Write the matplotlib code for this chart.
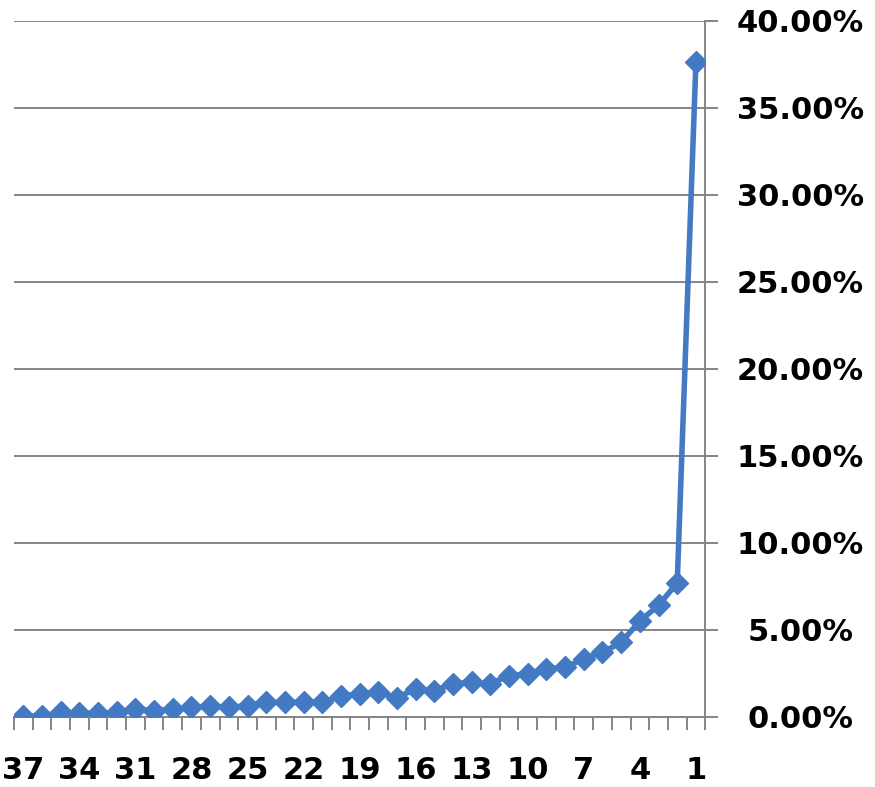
import numpy as np
import matplotlib
matplotlib.use("Agg")
import matplotlib.pyplot as plt
from matplotlib.ticker import FixedLocator, PercentFormatter

# categories run 37 -> 1 left to right
ranks = list(range(37, 0, -1))
shares = [0.05, 0.02, 0.25, 0.2, 0.2, 0.25, 0.44, 0.35, 0.44, 0.53,
          0.63, 0.53, 0.63, 0.82, 0.82, 0.82, 0.82, 1.2, 1.3, 1.4,
          1.1, 1.6, 1.5, 1.9, 1.97, 1.9, 2.36, 2.46, 2.75, 2.83,
          3.33, 3.7, 4.27, 5.5, 6.4, 7.7, 37.6]
label_ranks = list(range(37, 0, -3))
yticks = [0, 5, 10, 15, 20, 25, 30, 35, 40]

blue = "#4479C4"
grid_col = "#858585"

fig = plt.figure(figsize=(8.75, 7.87), dpi=100)
ax = fig.add_axes([0.016, 0.0893, 0.79, 0.8844])

xs = np.arange(len(ranks))
ax.plot(xs, shares, color=blue, lw=4, marker="D", markersize=11.5,
        markerfacecolor=blue, markeredgecolor=blue, zorder=3)

ax.set_xlim(-0.5, len(ranks) - 0.5)
ax.set_ylim(0, 40)

# y axis on the right, gridlines every 5%
ax.yaxis.tick_right()
ax.set_yticks(yticks)
ax.yaxis.set_major_formatter(PercentFormatter(decimals=2))
ax.grid(axis="y", color=grid_col, lw=1.4)
ax.set_axisbelow(True)
ax.tick_params(axis="y", direction="out", length=9.5, width=1.4, color=grid_col,
               pad=59, labelsize=22)
for lab in ax.get_yticklabels():
    lab.set_horizontalalignment("center")
    lab.set_fontweight("bold")

# ticks between categories, labels every 3rd
ax.xaxis.set_major_locator(FixedLocator(np.arange(-0.5, len(ranks))))
ax.xaxis.set_major_formatter(plt.NullFormatter())
ax.tick_params(axis="x", which="major", direction="out", length=9.5, width=1.4,
               color=grid_col)
lab_pos = [ranks.index(r) for r in label_ranks]
ax.set_xticks(lab_pos, minor=True)
ax.set_xticklabels([str(r) for r in label_ranks], minor=True,
                   fontsize=22, fontweight="bold")
ax.tick_params(axis="x", which="minor", length=0, pad=28)

for s in ["top", "left"]:
    ax.spines[s].set_visible(False)
for s in ["bottom", "right"]:
    ax.spines[s].set_color(grid_col)
    ax.spines[s].set_linewidth(1.4)

fig.savefig("out.png", dpi=100)
